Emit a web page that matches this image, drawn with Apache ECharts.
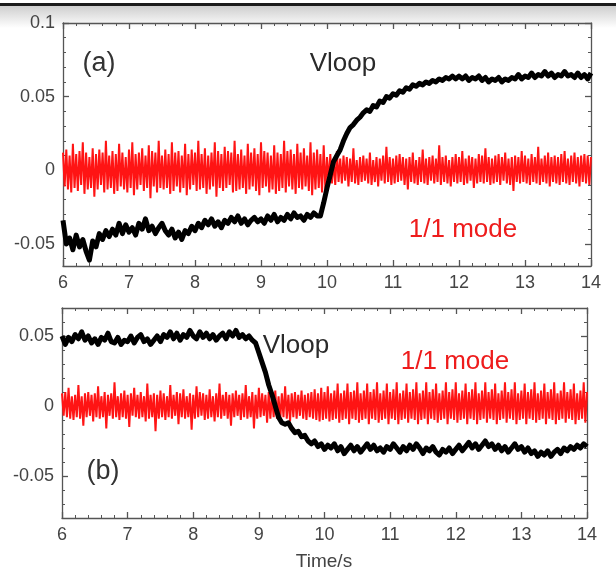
<!DOCTYPE html>
<html>
<head>
<meta charset="utf-8">
<script src="https://cdn.jsdelivr.net/npm/echarts@6/dist/echarts.min.js"></script>
<style>
html,body{margin:0;padding:0;background:#fff;}
#chart{width:616px;height:571px;}
</style>
</head>
<body>
<div id="chart"></div>
<script>
// ---------- data ----------
// time sampling of the recorded traces
const vloopT0 = 6, vloopDt = 0.05;   // Vloop sampled every 0.05 s
const modeT0 = 6, modeDt = 0.025;    // 1/1 mode sampled every 0.025 s

// panel (a) Vloop
const vloopA = [
-.034,-.050,-.046,-.054,-.044,-.052,-.047,-.055,-.061,-.048,
-.052,-.043,-.047,-.041,-.045,-.040,-.044,-.036,-.043,-.037,
-.042,-.039,-.044,-.036,-.040,-.033,-.041,-.038,-.043,-.039,
-.036,-.041,-.044,-.040,-.046,-.042,-.047,-.041,-.043,-.038,
-.041,-.036,-.039,-.034,-.037,-.033,-.038,-.035,-.039,-.034,
-.036,-.032,-.035,-.031,-.036,-.033,-.037,-.034,-.032,-.035,
-.033,-.036,-.031,-.034,-.030,-.035,-.032,-.034,-.030,-.033,
-.029,-.032,-.031,-.034,-.030,-.032,-.029,-.031,-.031,-.022,
-.012,-.003,.006,.010,.014,.020,.025,.029,.031,.034,
.036,.039,.041,.040,.044,.043,.047,.046,.050,.049,
.052,.051,.054,.053,.056,.055,.058,.057,.059,.058,
.060,.059,.061,.060,.062,.061,.063,.062,.064,.062,
.064,.062,.064,.061,.063,.062,.064,.061,.063,.060,
.062,.061,.063,.060,.062,.061,.063,.062,.065,.062,
.064,.063,.066,.063,.065,.064,.067,.064,.066,.063,
.065,.064,.067,.064,.065,.063,.066,.063,.065,.062,
.066
];

// panel (b) Vloop
const vloopB = [
.050,.044,.049,.046,.051,.048,.053,.047,.050,.045,
.048,.044,.049,.047,.052,.046,.045,.049,.044,.047,
.046,.050,.045,.049,.051,.046,.048,.044,.047,.050,
.046,.051,.049,.053,.048,.052,.047,.051,.049,.054,
.050,.048,.053,.049,.052,.048,.051,.047,.050,.052,
.048,.053,.050,.054,.049,.051,.048,.050,.047,.045,
.038,.031,.024,.015,.008,.000,-.008,-.012,-.013,-.012,
-.016,-.019,-.018,-.022,-.021,-.025,-.027,-.025,-.029,-.027,
-.031,-.028,-.030,-.027,-.032,-.029,-.034,-.031,-.028,-.032,
-.029,-.033,-.030,-.027,-.031,-.028,-.032,-.030,-.033,-.029,
-.031,-.027,-.030,-.033,-.029,-.032,-.028,-.031,-.027,-.030,
-.034,-.030,-.032,-.029,-.033,-.035,-.031,-.033,-.030,-.034,
-.031,-.028,-.032,-.029,-.026,-.030,-.027,-.031,-.028,-.025,
-.029,-.027,-.031,-.028,-.032,-.029,-.033,-.030,-.027,-.031,
-.029,-.033,-.030,-.034,-.032,-.036,-.033,-.035,-.032,-.036,
-.033,-.031,-.034,-.030,-.032,-.029,-.031,-.028,-.030,-.027,
-.029
];

// panel (a) 1/1 mode
const modeA = [
.012,-.011,.014,-.013,.010,-.015,.018,-.012,.011,-.014,.013,-.010,.019,-.016,.012,-.013,.009,-.012,.015,-.018,
.011,-.013,.014,-.010,.012,-.015,.020,-.013,.010,-.012,.013,-.016,.011,-.014,.018,-.011,.012,-.013,.009,-.015,
.014,-.012,.019,-.017,.011,-.013,.012,-.010,.015,-.014,.010,-.012,.017,-.019,.013,-.011,.012,-.015,.020,-.012,
.010,-.013,.014,-.012,.011,-.016,.019,-.014,.012,-.011,.013,-.015,.010,-.012,.018,-.017,.011,-.013,.014,-.010,
.012,-.014,.020,-.013,.011,-.012,.015,-.016,.010,-.013,.012,-.011,.019,-.018,.013,-.012,.011,-.014,.016,-.012,
.013,-.010,.012,-.015,.020,-.014,.011,-.013,.014,-.012,.010,-.016,.018,-.013,.012,-.011,.015,-.014,.011,-.017,
.019,-.012,.013,-.011,.012,-.015,.010,-.013,.017,-.016,.012,-.014,.011,-.012,.020,-.015,.013,-.011,.014,-.013,
.011,-.016,.018,-.012,.012,-.013,.015,-.011,.010,-.014,.019,-.017,.012,-.013,.014,-.012,.011,-.015,.017,-.013,
.009,-.008,.011,-.009,.007,-.010,.013,-.008,.008,-.009,.010,-.007,.009,-.011,.008,-.008,.015,-.009,.007,-.010,
.009,-.008,.010,-.007,.008,-.009,.012,-.010,.007,-.008,.009,-.011,.008,-.007,.010,-.009,.016,-.008,.009,-.010,
.008,-.009,.010,-.008,.011,-.007,.009,-.010,.008,-.013,.009,-.008,.012,-.009,.007,-.010,.009,-.008,.014,-.009,
.008,-.010,.009,-.007,.010,-.009,.008,-.008,.017,-.010,.009,-.008,.010,-.009,.007,-.011,.009,-.008,.011,-.009,
.009,-.008,.013,-.010,.008,-.009,.010,-.007,.009,-.012,.008,-.009,.011,-.008,.010,-.009,.015,-.008,.009,-.010,
.008,-.009,.010,-.008,.011,-.010,.009,-.007,.012,-.009,.008,-.010,.009,-.014,.010,-.008,.009,-.009,.013,-.008,
.010,-.009,.008,-.010,.011,-.008,.009,-.009,.016,-.010,.008,-.008,.010,-.009,.012,-.011,.009,-.008,.010,-.009,
.009,-.010,.011,-.008,.013,-.009,.008,-.010,.010,-.008,.012,-.009,.009,-.011,.010,-.008,.011,-.009,.010,-.010,
.009
];

// panel (b) 1/1 mode
const modeB = [
.009,-.007,.010,-.008,.013,-.009,.007,-.010,.008,-.008,.015,-.009,.007,-.014,.009,-.008,.010,-.007,.008,-.011,
.009,-.008,.014,-.009,.007,-.008,.010,-.016,.008,-.007,.009,-.009,.017,-.008,.007,-.010,.009,-.008,.011,-.009,
.008,-.015,.009,-.007,.013,-.008,.008,-.009,.010,-.008,.007,-.011,.016,-.009,.008,-.008,.009,-.018,.008,-.009,
.011,-.008,.009,-.010,.007,-.008,.015,-.009,.008,-.007,.010,-.013,.009,-.008,.012,-.009,.007,-.008,.009,-.017,
.008,-.009,.014,-.008,.010,-.007,.009,-.010,.008,-.009,.012,-.008,.007,-.011,.009,-.008,.016,-.009,.008,-.007,
.010,-.009,.008,-.014,.009,-.008,.011,-.007,.008,-.010,.009,-.008,.015,-.009,.007,-.008,.010,-.016,.008,-.009,
.013,-.008,.009,-.007,.008,-.012,.010,-.009,.008,-.008,.011,-.009,.007,-.010,.009,-.008,.014,-.009,.008,-.011,
.009,-.008,.010,-.009,.008,-.007,.011,-.009,.008,-.010,.009,-.008,.010,-.009,.012,-.010,.009,-.011,.013,-.010,
.010,-.009,.014,-.011,.009,-.010,.011,-.009,.016,-.012,.009,-.010,.011,-.009,.016,-.013,.010,-.009,.011,-.010,
.017,-.012,.009,-.010,.011,-.009,.016,-.013,.010,-.009,.012,-.010,.017,-.012,.009,-.010,.011,-.009,.016,-.013,
.010,-.009,.012,-.010,.017,-.013,.009,-.010,.011,-.009,.016,-.012,.010,-.009,.012,-.010,.017,-.013,.009,-.010,
.011,-.009,.017,-.013,.010,-.009,.012,-.010,.016,-.012,.009,-.010,.011,-.009,.017,-.013,.010,-.009,.012,-.010,
.017,-.012,.009,-.010,.011,-.009,.016,-.013,.010,-.009,.012,-.010,.017,-.013,.009,-.010,.011,-.009,.017,-.012,
.010,-.009,.012,-.010,.016,-.013,.009,-.010,.011,-.009,.017,-.012,.010,-.009,.012,-.010,.017,-.013,.009,-.010,
.011,-.009,.016,-.013,.010,-.009,.012,-.010,.017,-.012,.009,-.010,.011,-.009,.016,-.013,.010,-.009,.012,-.010,
.017,-.013,.009,-.010,.011,-.009,.017,-.012,.010,-.009,.012,-.010,.016,-.013,.009,-.010,.011,-.009,.017,-.012,
.010
];

// axis ranges and ticks
const xRange = [6, 14];
const yRangeA = [-0.065, 0.1];
const yRangeB = [-0.08, 0.07];
const yMajorA = [-0.05, 0, 0.05, 0.1];
const yMinorA = [-0.06, -0.04, -0.03, -0.02, -0.01, 0.01, 0.02, 0.03, 0.04, 0.06, 0.07, 0.08, 0.09];
const yMajorB = [-0.05, 0, 0.05];
const yMinorB = [-0.07, -0.06, -0.04, -0.03, -0.02, -0.01, 0.01, 0.02, 0.03, 0.04, 0.06];

// ---------- chart ----------
const toPairs = (arr, t0, dt) => arr.map((v, i) => [+(t0 + i * dt).toFixed(4), v]);

const FONT = '"Liberation Sans", Arial, sans-serif';
const AX = '#555';
const LBL = '#444';

function xAxis(grid, pos, labels) {
  return {
    gridIndex: grid, type: 'value', min: xRange[0], max: xRange[1], interval: 1,
    position: pos,
    axisLine: { show: true, onZero: false, lineStyle: { color: AX, width: 1.3 } },
    axisTick: { show: true, inside: true, length: 6, lineStyle: { color: AX, width: 1.3 } },
    minorTick: { show: true, splitNumber: 5, length: 3, lineStyle: { color: AX, width: 1 } },
    axisLabel: { show: labels, color: LBL, fontSize: 18, fontFamily: FONT, margin: 8 },
    splitLine: { show: false }, minorSplitLine: { show: false }
  };
}
function yAxis(grid, range, pos, ticks, len, labels, line) {
  return {
    gridIndex: grid, type: 'value', min: range[0], max: range[1], position: pos,
    axisLine: { show: line, onZero: false, lineStyle: { color: AX, width: 1.3 } },
    axisTick: { show: true, inside: true, length: len, customValues: ticks, lineStyle: { color: AX, width: len > 4 ? 1.3 : 1 } },
    axisLabel: { show: labels, customValues: ticks, color: LBL, fontSize: 18, fontFamily: FONT, margin: 8,
                 formatter: v => String(v) },
    splitLine: { show: false }
  };
}

const option = {
  animation: false,
  backgroundColor: '#ffffff',
  grid: [
    { left: 63, top: 23, width: 528, height: 243 },
    { left: 62, top: 308, width: 525, height: 210 }
  ],
  xAxis: [
    xAxis(0, 'bottom', true), xAxis(0, 'top', false),
    xAxis(1, 'bottom', true), xAxis(1, 'top', false)
  ],
  yAxis: [
    yAxis(0, yRangeA, 'left', yMajorA, 6, true, true),
    yAxis(0, yRangeA, 'left', yMinorA, 3, false, false),
    yAxis(0, yRangeA, 'right', yMajorA, 6, false, true),
    yAxis(0, yRangeA, 'right', yMinorA, 3, false, false),
    yAxis(1, yRangeB, 'left', yMajorB, 6, true, true),
    yAxis(1, yRangeB, 'left', yMinorB, 3, false, false),
    yAxis(1, yRangeB, 'right', yMajorB, 6, false, true),
    yAxis(1, yRangeB, 'right', yMinorB, 3, false, false)
  ],
  series: [
    { type: 'line', xAxisIndex: 0, yAxisIndex: 0, data: toPairs(modeA, modeT0, modeDt),
      showSymbol: false, z: 2, lineStyle: { color: '#ff1414', width: 2 } },
    { type: 'line', xAxisIndex: 0, yAxisIndex: 0, data: toPairs(vloopA, vloopT0, vloopDt),
      showSymbol: false, z: 3, lineStyle: { color: '#000', width: 5, join: 'round' } },
    { type: 'line', xAxisIndex: 2, yAxisIndex: 4, data: toPairs(modeB, modeT0, modeDt),
      showSymbol: false, z: 2, lineStyle: { color: '#ff1414', width: 2 } },
    { type: 'line', xAxisIndex: 2, yAxisIndex: 4, data: toPairs(vloopB, vloopT0, vloopDt),
      showSymbol: false, z: 3, lineStyle: { color: '#000', width: 5, join: 'round' } }
  ],
  graphic: [
    { type: 'rect', z: -10, shape: { x: 0, y: 6, width: 616, height: 22 },
      style: { fill: { type: 'linear', x: 0, y: 0, x2: 0, y2: 1,
        colorStops: [{ offset: 0, color: '#cfcfcf' }, { offset: 1, color: '#ffffff' }] } } },
    { type: 'rect', z: 10, shape: { x: 0, y: 3, width: 616, height: 3 }, style: { fill: '#1c1c1c' } },
    { type: 'text', z: 10, style: { text: '(a)', x: 99, y: 64, align: 'center', verticalAlign: 'middle', textAlign: 'center', textVerticalAlign: 'middle', font: '27px ' + FONT, fill: '#333' } },
    { type: 'text', z: 10, style: { text: 'Vloop', x: 343, y: 64, align: 'center', verticalAlign: 'middle', textAlign: 'center', textVerticalAlign: 'middle', font: '26px ' + FONT, fill: '#2a2a2a' } },
    { type: 'text', z: 10, style: { text: '1/1 mode', x: 463, y: 230, align: 'center', verticalAlign: 'middle', textAlign: 'center', textVerticalAlign: 'middle', font: '26px ' + FONT, fill: '#ee1c1c' } },
    { type: 'text', z: 10, style: { text: 'Vloop', x: 296, y: 346, align: 'center', verticalAlign: 'middle', textAlign: 'center', textVerticalAlign: 'middle', font: '26px ' + FONT, fill: '#2a2a2a' } },
    { type: 'text', z: 10, style: { text: '1/1 mode', x: 455, y: 362, align: 'center', verticalAlign: 'middle', textAlign: 'center', textVerticalAlign: 'middle', font: '26px ' + FONT, fill: '#ee1c1c' } },
    { type: 'text', z: 10, style: { text: '(b)', x: 103, y: 472, align: 'center', verticalAlign: 'middle', textAlign: 'center', textVerticalAlign: 'middle', font: '27px ' + FONT, fill: '#333' } },
    { type: 'text', z: 10, style: { text: 'Time/s', x: 324, y: 562, align: 'center', verticalAlign: 'middle', textAlign: 'center', textVerticalAlign: 'middle', font: '19px ' + FONT, fill: '#444' } }
  ]
};

const chart = echarts.init(document.getElementById('chart'), null, { renderer: 'canvas' });
chart.setOption(option);
</script>
</body>
</html>
